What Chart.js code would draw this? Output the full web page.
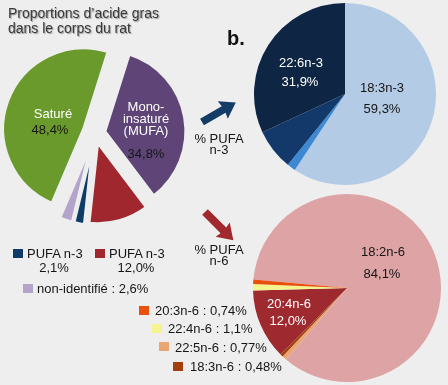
<!DOCTYPE html>
<html><head><meta charset="utf-8">
<script src="https://cdn.jsdelivr.net/npm/chart.js@4"></script>
<style>
html,body{margin:0;padding:0;width:448px;height:385px;overflow:hidden;background:#eeeeee;}
body{position:relative;font-family:"Liberation Sans",Arial,Helvetica,sans-serif;color:#161616;}
canvas{position:absolute;}
.t{position:absolute;white-space:nowrap;font-size:13px;line-height:13px;transform:translate(-50%,-50%);}
.l{position:absolute;white-space:nowrap;font-size:13px;line-height:13px;transform:translateY(-50%);}
.w{color:#ffffff;}
.sq{position:absolute;width:10px;height:9px;}
.title{position:absolute;left:8px;font-size:14px;line-height:14px;color:#3a3a3a;text-shadow:1px 1px 1px rgba(0,0,0,0.35);transform:translateY(-50%);white-space:nowrap;}
svg{position:absolute;left:0;top:0;}
</style></head>
<body>
<canvas id="cMain" width="210" height="210" style="left:-10px;top:28px"></canvas>
<canvas id="cN3" width="200" height="200" style="left:245px;top:-6px"></canvas>
<canvas id="cN6" width="200" height="200" style="left:247px;top:188px"></canvas>
<svg width="448" height="385">
  <g transform="translate(202,122) rotate(-30)"><polygon points="0,-3.8 25,-3.8 24,-10 39,0 24,10 25,3.8 0,3.8" fill="#133c66"/></g>
  <g transform="translate(205,212) rotate(45)"><polygon points="0,-4 26,-4 25,-10 40,0 25,10 26,4 0,4" fill="#a0282e"/></g>
</svg>
<div id="txt"></div>
<script>
// ---- data ----
const mainLabels = ['Mono-insaturé (MUFA)', 'PUFA n-6', 'PUFA n-3', 'non-identifié', 'Saturé'];
const mainValues = [34.8, 12.0, 2.1, 2.6, 48.4];
const mainColors = ['#5f4577', '#a0272d', '#0f3b68', '#b4a4cc', '#6b9a2c'];

const n3Labels = ['18:3n-3', '20:5n-3', '22:5n-3', '22:6n-3'];
const n3Values = [59.3, 1.5, 7.3, 31.9];
const n3Colors = ['#b3cbe5', '#3c88d2', '#12396a', '#0e2644'];

const n6Labels = ['18:2n-6', '22:5n-6', '18:3n-6', '20:4n-6', '22:4n-6', '20:3n-6'];
const n6Values = [84.1, 0.77, 0.48, 12.0, 1.1, 0.74];
const n6Colors = ['#dea4a5', '#eaa672', '#a53e0d', '#9e2a2f', '#f4f58e', '#e8500c'];

const BG = '#eeeeee';

// exploded slices: move each arc's centre outward along its own mid-angle
const explodePlugin = {
  id: 'explode',
  afterDatasetUpdate(chart, args, opts) {
    const d = opts && opts.distances;
    if (!d) return;
    args.meta.data.forEach((arc, i) => {
      const a = (arc.startAngle + arc.endAngle) / 2;
      arc.x += Math.cos(a) * (d[i] || 0);
      arc.y += Math.sin(a) * (d[i] || 0);
    });
  }
};

function pie(id, labels, values, colors, opts) {
  return new Chart(document.getElementById(id), {
    type: 'pie',
    data: { labels: labels, datasets: [{
      data: values, backgroundColor: colors,
      borderColor: opts.border ? BG : colors,
      borderWidth: opts.border ? 3 : 0
    }]},
    options: {
      responsive: false, animation: false, events: [],
      rotation: opts.rotation, radius: opts.radius,
      layout: { padding: 0 },
      plugins: { legend: { display: false }, tooltip: { enabled: false }, title: { display: false },
                 explode: { distances: opts.explode || null } }
    },
    plugins: [explodePlugin]
  });
}
pie('cMain', mainLabels, mainValues, mainColors, {rotation: 17.5, radius: 81, border: true, explode: [10, 10, 11, 11, 12]});
pie('cN3', n3Labels, n3Values, n3Colors, {rotation: 0, radius: 91});
pie('cN6', n6Labels, n6Values, n6Colors, {rotation: 275.2, radius: 94});

// ---- texts ----
const texts = [
  ['title', 8, 13, "Proportions d’acide gras"],
  ['title', 8, 28, 'dans le corps du rat'],
  ['t w', 53, 113, 'Saturé'], ['t', 50, 129, '48,4%'],
  ['t w', 146, 106, 'Mono-'], ['t w', 146, 118, 'insaturé'], ['t w', 146, 130, '(MUFA)'], ['t', 146, 153, '34,8%'],
  ['t w', 301, 62, '22:6n-3'], ['t w', 300, 81, '31,9%'],
  ['t', 382, 87, '18:3n-3'], ['t', 382, 108, '59,3%'],
  ['t', 383, 251, '18:2n-6'], ['t', 382, 273, '84,1%'],
  ['t w', 289, 303, '20:4n-6'], ['t w', 288, 320, '12,0%'],
  ['t', 219, 138, '% PUFA'], ['t', 219, 149, 'n-3'],
  ['t', 219, 249, '% PUFA'], ['t', 219, 260, 'n-6'],
  ['l', 27, 253, 'PUFA n-3'], ['t', 54, 267, '2,1%'],
  ['l', 109, 253, 'PUFA n-3'], ['t', 136, 267, '12,0%'],
  ['l', 37, 288, 'non-identifié : 2,6%'],
  ['l', 155, 310, '20:3n-6 : 0,74%'],
  ['l', 168, 328, '22:4n-6 : 1,1%'],
  ['l', 175, 347, '22:5n-6 : 0,77%'],
  ['l', 190, 366, '18:3n-6 : 0,48%']
];
const squares = [
  [13, 249, mainColors[2]], [95, 249, mainColors[1]], [23, 284, mainColors[3]],
  [139, 306, n6Colors[5]], [152, 324, n6Colors[4]], [159, 342, n6Colors[1]], [173, 362, n6Colors[2]]
];
const box = document.getElementById('txt');
texts.forEach(([cls, x, y, s]) => {
  const d = document.createElement('div');
  d.className = cls; d.style.left = x + 'px'; d.style.top = y + 'px'; d.textContent = s;
  box.appendChild(d);
});
squares.forEach(([x, y, c]) => {
  const d = document.createElement('div');
  d.className = 'sq'; d.style.left = x + 'px'; d.style.top = y + 'px'; d.style.background = c;
  box.appendChild(d);
});
const b = document.createElement('div');
b.style.cssText = 'position:absolute;left:227px;top:38px;transform:translateY(-50%);font-size:20px;font-weight:bold;color:#111;line-height:20px;';
b.textContent = 'b.';
box.appendChild(b);
</script>
</body></html>
